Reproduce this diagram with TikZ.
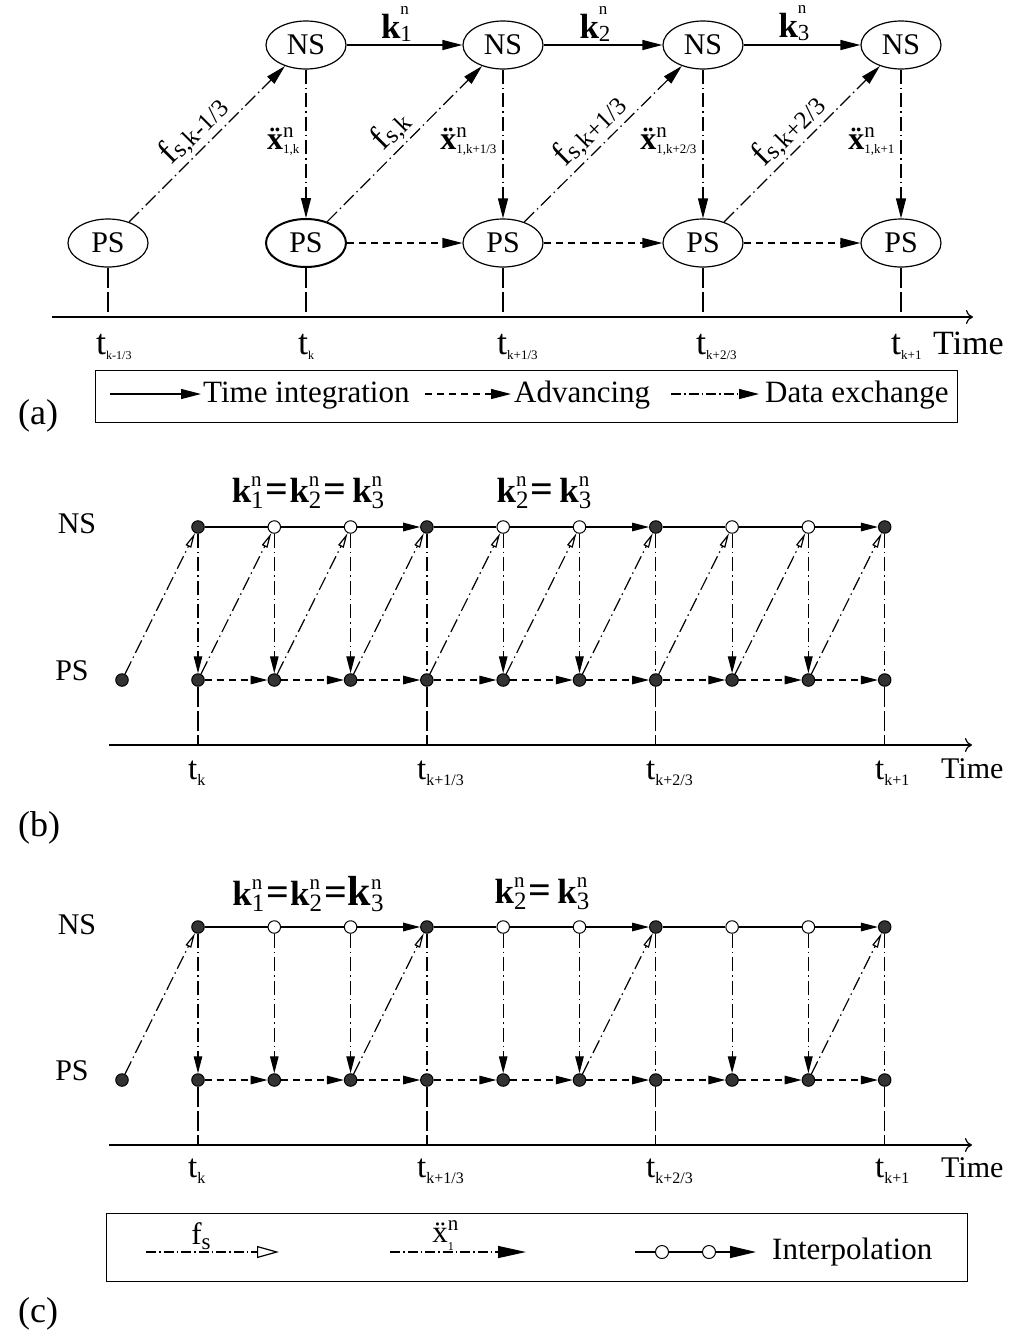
\documentclass[tikz,border=0pt]{standalone}
\usepackage{fontspec}
\setmainfont{Liberation Serif}
\usetikzlibrary{shapes.geometric,arrows.meta}

\tikzset{
 F/.style={font=\fontsize{#1}{#1}\selectfont},
 ell/.style={ellipse, draw, line width=1.2pt, minimum width=80pt, minimum height=48pt, inner sep=0pt, F=30},
 ln/.style={line width=1.2pt},
 dd/.style={ln, dash pattern=on 14pt off 4pt on 1.5pt off 4pt},
 adv/.style={ln, dash pattern=on 7pt off 5pt},
 ld/.style={ln, dash pattern=on 20pt off 4pt},
 tipA/.style={-{Triangle[length=20pt,width=10pt]}},
 tipB/.style={-{Triangle[length=17pt,width=8.5pt]}},
 tipO/.style={-{Triangle[open,length=15pt,width=6pt]}},
 fdot/.style={circle, draw, fill=black!80, inner sep=0pt, minimum size=12.5pt, line width=1pt},
 odot/.style={circle, draw, fill=white, inner sep=0pt, minimum size=12.5pt, line width=1pt},
 taxis/.style={line width=1.2pt, -{To[length=7pt,width=14pt]}},
 box/.style={draw, line width=1.2pt},
}

% k vector: #1 sub, #2 sub size, #3 sup size, #4 sup raise
\newcommand{\kv}[4]{\textbf{k}\rlap{\raisebox{#4}{\fontsize{#3}{#3}\selectfont n}}\raisebox{-3pt}{\fontsize{#2}{#2}\selectfont #1}}
% k vector with lower subscript (panels b, c)
\newcommand{\kw}[1]{\textbf{k}\rlap{\raisebox{16pt}{\fontsize{21}{21}\selectfont n}}\raisebox{-6pt}{\fontsize{25}{25}\selectfont #1}}
\newcommand{\eq}{\hspace{2pt}{\fontsize{40}{40}\selectfont\textbf{=}}\hspace{1pt}}
% x double dot: #1 subscript
\newcommand{\xdd}[1]{\textbf{\"x}\rlap{\raisebox{12pt}{\fontsize{21}{21}\selectfont n}}\raisebox{-4pt}{\fontsize{13}{13}\selectfont #1}}
% time label: #1 sub, #2 size, #3 lower
\newcommand{\tlab}[3]{t\raisebox{-#3}{\fontsize{#2}{#2}\selectfont #1}}
% force label
\newcommand{\fl}[1]{f\raisebox{-2pt}{\fontsize{25}{25}\selectfont s,#1}}

\begin{document}
\begin{tikzpicture}[x=1pt,y=-1pt]
\useasboundingbox (0,0) rectangle (1013,1342);

%================ (a) =================
\node[ell] (ns1) at (306,45) {NS};
\node[ell] (ns2) at (503,45) {NS};
\node[ell] (ns3) at (703,45) {NS};
\node[ell] (ns4) at (901,45) {NS};
\node[ell] (ps0) at (108,243) {PS};
\node[ell, line width=2pt] (ps1) at (306,243) {PS};
\node[ell] (ps2) at (503,243) {PS};
\node[ell] (ps3) at (703,243) {PS};
\node[ell] (ps4) at (901,243) {PS};

\draw[ln,tipA] (ns1) -- node[above=0pt, xshift=-8pt, F=35] {\kv{1}{23}{17}{24pt}} (ns2);
\draw[ln,tipA] (ns2) -- node[above=0pt, xshift=-8pt, F=35] {\kv{2}{23}{17}{24pt}} (ns3);
\draw[ln,tipA] (ns3) -- node[above=0pt, xshift=-8pt, F=35] {\kv{3}{23}{17}{24pt}} (ns4);

\draw[adv,tipA] (ps1) -- (ps2);
\draw[adv,tipA] (ps2) -- (ps3);
\draw[adv,tipA] (ps3) -- (ps4);

\draw[dd,tipA] (ns1) -- (ps1);
\draw[dd,tipA] (ns2) -- (ps2);
\draw[dd,tipA] (ns3) -- (ps3);
\draw[dd,tipA] (ns4) -- (ps4);
\node[F=32, anchor=east] (xa1) at (303,142) {\xdd{1,k}};
\node[F=32, anchor=east] (xa2) at (500,142) {\xdd{1,k+1/3}};
\node[F=32, anchor=east] (xa3) at (700,142) {\xdd{1,k+2/3}};
\node[F=32, anchor=east] (xa4) at (898,142) {\xdd{1,k+1}};

\draw[dd,tipA] (ps0) -- node[sloped, above=0pt, F=35] {\fl{k-1/3}} (ns1);
\draw[dd,tipA] (ps1) -- node[sloped, above=0pt, F=35] {\fl{k}} (ns2);
\draw[dd,tipA] (ps2) -- node[sloped, above=0pt, F=35] {\fl{k+1/3}} (ns3);
\draw[dd,tipA] (ps3) -- node[sloped, above=0pt, F=35] {\fl{k+2/3}} (ns4);

\coordinate (aA0) at (52,317);
\coordinate (aA1) at (973,317);
\draw[taxis] (aA0) -- (aA1);
\foreach \n/\x in {0/108,1/306,2/503,3/703,4/901}{
  \coordinate (at\n) at (\x,317);
  \draw[ld] (ps\n) -- (at\n);
}
\node[F=36, anchor=base west, inner sep=0pt] (tla0) at (96,354) {\tlab{k-1/3}{12}{5pt}};
\node[F=36, anchor=base west, inner sep=0pt] (tla1) at (298,354) {\tlab{k}{12}{5pt}};
\node[F=36, anchor=base west, inner sep=0pt] (tla2) at (497,354) {\tlab{k+1/3}{13}{5pt}};
\node[F=36, anchor=base west, inner sep=0pt] (tla3) at (696,354) {\tlab{k+2/3}{13}{5pt}};
\node[F=36, anchor=base west, inner sep=0pt] (tla4) at (891,354) {\tlab{k+1}{13}{5pt}};
\node[F=34, anchor=base west, inner sep=0pt] (timea) at (933,354) {Time};

% legend (a)
\node[box, minimum width=862pt, minimum height=52pt, anchor=north west, inner sep=0pt] (lega) at (95,370) {};
\coordinate (la1s) at (110,394); \coordinate (la1e) at (201,394);
\coordinate (la2s) at (425,394); \coordinate (la2e) at (511,394);
\coordinate (la3s) at (671,394); \coordinate (la3e) at (759,394);
\draw[ln,tipA] (la1s) -- (la1e);
\draw[adv,tipA] (la2s) -- (la2e);
\draw[ln, dash pattern=on 10pt off 3pt on 1.5pt off 3pt,tipA] (la3s) -- (la3e);
\node[F=31, anchor=base west, inner sep=0pt] (lta1) at (203,402) {Time integration};
\node[F=31, anchor=base west, inner sep=0pt] (lta2) at (514,402) {Advancing};
\node[F=31, anchor=base west, inner sep=0pt] (lta3) at (765,402) {Data exchange};
\node[F=36, anchor=base west, inner sep=0pt] (capa) at (18,424) {(a)};

%================ (b) =================
\node[F=30] (bNS) at (77,524) {NS};
\node[F=30] (bPS) at (72,671) {PS};
\node[F=35] (bk1) at (308,493) {\kw{1}\eq\kw{2}\eq\hspace{5pt}\kw{3}};
\node[F=35] (bk2) at (544,493) {\kw{2}\eq\hspace{5pt}\kw{3}};

\node[fdot] (bpI) at (122,680) {};
\foreach \i/\s in {0/fdot,1/odot,2/odot,3/fdot,4/odot,5/odot,6/fdot,7/odot,8/odot,9/fdot}{
  \pgfmathsetmacro\xx{198+76.3*\i}
  \node[\s] (bn\i) at (\xx,527) {};
  \node[fdot] (bp\i) at (\xx,680) {};
}
\foreach \a/\b in {0/1,1/2,3/4,4/5,6/7,7/8} \draw[ln] (bn\a) -- (bn\b);
\foreach \a/\b in {2/3,5/6,8/9} \draw[ln,tipB] (bn\a) -- (bn\b);
\foreach \a/\b in {0/1,1/2,2/3,3/4,4/5,5/6,6/7,7/8,8/9} \draw[adv,tipB] (bp\a) -- (bp\b);
\foreach \i in {0,1,2,4,5,7,8} \draw[dd,tipB] (bn\i) -- (bp\i);
\foreach \i in {3,6,9} \draw[dd] (bn\i) -- (bp\i);
\draw[dd,tipO] (bpI) -- (bn0);
\foreach \a/\b in {0/1,1/2,2/3,3/4,4/5,5/6,6/7,7/8,8/9} \draw[dd,tipO] (bp\a) -- (bn\b);
\coordinate (bA0) at (109,745);
\coordinate (bA1) at (972,745);
\draw[taxis] (bA0) -- (bA1);
\foreach \i in {0,3,6,9}{
  \pgfmathsetmacro\xx{198+76.3*\i}
  \coordinate (bt\i) at (\xx,745);
  \draw[ld] (bp\i) -- (bt\i);
}
\node[F=33, anchor=base west, inner sep=0pt] (tlb0) at (188,779) {\tlab{k}{16}{6pt}};
\node[F=33, anchor=base west, inner sep=0pt] (tlb1) at (417,779) {\tlab{k+1/3}{16}{6pt}};
\node[F=33, anchor=base west, inner sep=0pt] (tlb2) at (646,779) {\tlab{k+2/3}{16}{6pt}};
\node[F=33, anchor=base west, inner sep=0pt] (tlb3) at (875,779) {\tlab{k+1}{16}{6pt}};
\node[F=30, anchor=base west, inner sep=0pt] (timeb) at (941,778) {Time};
\node[F=36, anchor=base west, inner sep=0pt] (capb) at (18,836) {(b)};

%================ (c) =================
\node[F=30] (cNS) at (77,925) {NS};
\node[F=30] (cPS) at (72,1071) {PS};
\node[F=35] (ck1) at (308,894) {\kw{1}\eq\kw{2}\eq{\fontsize{42}{42}\selectfont\kw{3}}};
\node[F=35] (ck2) at (542,894) {\kw{2}\eq\hspace{5pt}\kw{3}};

\node[fdot] (cpI) at (122,1080) {};
\foreach \i/\s in {0/fdot,1/odot,2/odot,3/fdot,4/odot,5/odot,6/fdot,7/odot,8/odot,9/fdot}{
  \pgfmathsetmacro\xx{198+76.3*\i}
  \node[\s] (cn\i) at (\xx,927) {};
  \node[fdot] (cp\i) at (\xx,1080) {};
}
\foreach \a/\b in {0/1,1/2,3/4,4/5,6/7,7/8} \draw[ln] (cn\a) -- (cn\b);
\foreach \a/\b in {2/3,5/6,8/9} \draw[ln,tipB] (cn\a) -- (cn\b);
\foreach \a/\b in {0/1,1/2,2/3,3/4,4/5,5/6,6/7,7/8,8/9} \draw[adv,tipB] (cp\a) -- (cp\b);
\foreach \i in {0,1,2,4,5,7,8} \draw[dd,tipB] (cn\i) -- (cp\i);
\foreach \i in {3,6,9} \draw[dd] (cn\i) -- (cp\i);
\draw[dd,tipO] (cpI) -- (cn0);
\foreach \a/\b in {2/3,5/6,8/9} \draw[dd,tipO] (cp\a) -- (cn\b);
\coordinate (cA0) at (109,1145);
\coordinate (cA1) at (972,1145);
\draw[taxis] (cA0) -- (cA1);
\foreach \i in {0,3,6,9}{
  \pgfmathsetmacro\xx{198+76.3*\i}
  \coordinate (ct\i) at (\xx,1145);
  \draw[ld] (cp\i) -- (ct\i);
}
\node[F=33, anchor=base west, inner sep=0pt] (tlc0) at (188,1177) {\tlab{k}{16}{6pt}};
\node[F=33, anchor=base west, inner sep=0pt] (tlc1) at (417,1177) {\tlab{k+1/3}{16}{6pt}};
\node[F=33, anchor=base west, inner sep=0pt] (tlc2) at (646,1177) {\tlab{k+2/3}{16}{6pt}};
\node[F=33, anchor=base west, inner sep=0pt] (tlc3) at (875,1177) {\tlab{k+1}{16}{6pt}};
\node[F=30, anchor=base west, inner sep=0pt] (timec) at (941,1177) {Time};

% legend (c)
\node[box, minimum width=861pt, minimum height=68pt, anchor=north west, inner sep=0pt] (legc) at (106,1213) {};
\coordinate (lc1s) at (146,1252); \coordinate (lc1e) at (279,1252);
\coordinate (lc2s) at (390,1252); \coordinate (lc2e) at (526,1252);
\coordinate (lc3s) at (635,1252); \coordinate (lc3e) at (756,1252);
\draw[ln, dash pattern=on 10pt off 3pt on 1.5pt off 3pt, -{Triangle[open,length=22pt,width=12pt]}] (lc1s) -- (lc1e);
\draw[ln, dash pattern=on 10pt off 3pt on 1.5pt off 3pt, -{Triangle[length=28pt,width=12pt]}] (lc2s) -- (lc2e);
\node[circle, draw, fill=white, line width=1pt, inner sep=0pt, minimum size=13pt] (ic1) at (662,1252) {};
\node[circle, draw, fill=white, line width=1pt, inner sep=0pt, minimum size=13pt] (ic2) at (709,1252) {};
\draw[ln] (lc3s) -- (ic1);
\draw[ln] (ic1) -- (ic2);
\draw[ln, -{Triangle[length=26pt,width=12pt]}] (ic2) -- (lc3e);
\node[F=31, anchor=base, inner sep=0pt] (lfs) at (201,1244) {f\raisebox{-5pt}{\fontsize{23}{23}\selectfont s}};
\node[F=31, anchor=base, inner sep=0pt] (lxn) at (443,1242) {\"x\rlap{\raisebox{12pt}{\fontsize{21}{21}\selectfont n}}\raisebox{-8pt}{\fontsize{12}{12}\selectfont 1}};
\node[F=31, anchor=base west, inner sep=0pt] (lint) at (772,1259) {Interpolation};
\node[F=36, anchor=base west, inner sep=0pt] (capc) at (18,1322) {(c)};

\end{tikzpicture}
\end{document}
